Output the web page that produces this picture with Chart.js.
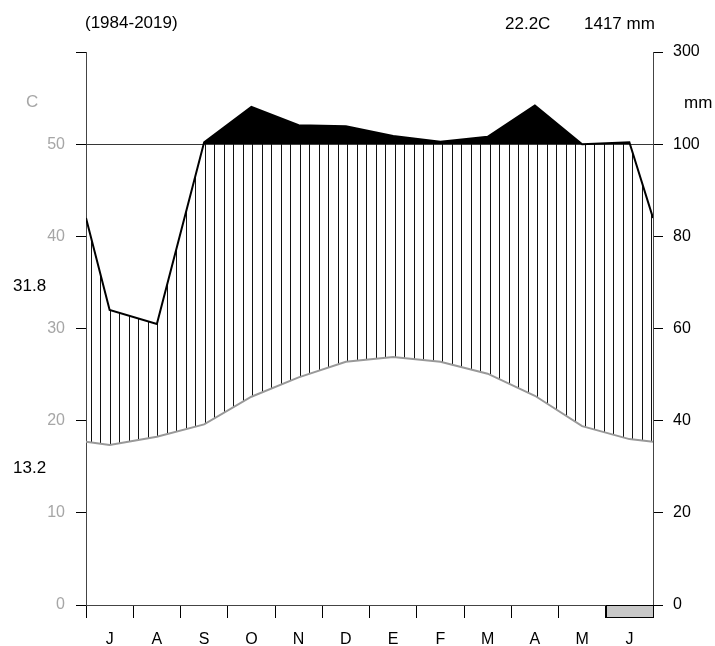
<!DOCTYPE html>
<html>
<head>
<meta charset="utf-8">
<script src="https://cdn.jsdelivr.net/npm/chart.js@4.4.1/dist/chart.umd.min.js"></script>
<style>
  html, body { margin: 0; padding: 0; background: #fff; }
</style>
</head>
<body>
<canvas id="chart" width="715" height="646"></canvas>
<script>
// months from July to June
const months = ['J', 'A', 'S', 'O', 'N', 'D', 'E', 'F', 'M', 'A', 'M', 'J']
// mean monthly temperature, C
const temp = [17.35, 18.25, 19.6, 22.6, 24.7, 26.4, 26.9, 26.4, 25.1, 22.7, 19.4, 18.0]
// monthly precipitation, mm
const prec = [64, 61, 104, 181, 141, 139, 118, 105, 116, 184, 100, 104]
// values read where the curves meet the left and right borders
const edgeTemp = 17.7
const edgePrec = 84
// months with probable frost (grey box under the axis)
const frost = [0, 0, 0, 0, 0, 0, 0, 0, 0, 0, 0, 1]
// axis ticks
const tempTicks = [0, 10, 20, 30, 40, 50, 60]
const tempLabels = ['0', '10', '20', '30', '40', '50', '']
const precLabels = ['0', '20', '40', '60', '80', '100', '300']

const font = { family: 'Liberation Sans, Arial, sans-serif', size: 16 }

// precipitation drawn on the temperature scale: 2 mm per C up to 100 mm, 20 mm per C above
function precToScale(p) {
  return p <= 100 ? p / 2 : 50 + (p - 100) / 20
}

const tempPoints = [{ x: 0, y: edgeTemp }]
temp.forEach((t, i) => tempPoints.push({ x: i + 0.5, y: t }))
tempPoints.push({ x: 12, y: edgeTemp })

const precPoints = [{ x: 0, y: precToScale(edgePrec) }]
prec.forEach((p, i) => precPoints.push({ x: i + 0.5, y: precToScale(p) }))
precPoints.push({ x: 12, y: precToScale(edgePrec) })

// vertical hatching for the humid period
const pc = document.createElement('canvas')
pc.width = 19
pc.height = 4
const pg = pc.getContext('2d')
pg.fillStyle = '#111'
pg.fillRect(5, 0, 1, 4)
pg.fillRect(15, 0, 1, 4)
const hatch = pg.createPattern(pc, 'repeat')

// frost boxes and free texts
const extras = {
  id: 'extras',
  afterDraw(chart) {
    const ctx = chart.ctx
    const xs = chart.scales.x
    const bottom = chart.chartArea.bottom
    ctx.save()
    frost.forEach((f, i) => {
      if (!f) return
      const x0 = Math.round(xs.getPixelForValue(i)) + 0.5
      const x1 = Math.round(xs.getPixelForValue(i + 1)) + 0.5
      ctx.fillStyle = '#c8c8c8'
      ctx.fillRect(x0, bottom + 0.5, x1 - x0, 12)
      ctx.strokeStyle = '#000'
      ctx.lineWidth = 1
      ctx.strokeRect(x0, bottom + 0.5, x1 - x0, 12)
    })
    ctx.font = '17px ' + font.family
    ctx.textBaseline = 'middle'
    ctx.textAlign = 'left'
    ctx.fillStyle = '#000'
    ctx.fillText('(1984-2019)', 85, 23)
    ctx.fillText('22.2C', 505, 24)
    ctx.fillText('1417 mm', 584, 24)
    ctx.fillText('31.8', 13, 286)
    ctx.fillText('13.2', 13, 468)
    ctx.fillText('mm', 684, 103)
    ctx.fillStyle = '#a6a6a6'
    ctx.fillText('C', 26, 102)
    ctx.restore()
  }
}

new Chart(document.getElementById('chart'), {
  type: 'line',
  data: {
    datasets: [
      {
        data: tempPoints,
        borderColor: '#999',
        borderWidth: 2,
        pointRadius: 0,
        fill: false,
        order: 0
      },
      {
        data: precPoints,
        borderColor: '#000',
        borderWidth: 2,
        pointRadius: 0,
        fill: { target: { value: 50 }, above: '#000', below: 'rgba(0,0,0,0)' },
        order: 1
      },
      {
        data: precPoints,
        borderColor: 'rgba(0,0,0,0)',
        borderWidth: 0,
        pointRadius: 0,
        fill: { target: 0, above: hatch, below: 'rgba(0,0,0,0)' },
        order: 2
      }
    ]
  },
  options: {
    responsive: false,
    animation: false,
    layout: { padding: { top: 52, left: 0, right: 0, bottom: 0 } },
    plugins: { legend: { display: false }, tooltip: { enabled: false } },
    elements: { line: { tension: 0 } },
    scales: {
      x: { type: 'linear', min: 0, max: 12, display: false },
      xm: {
        type: 'category',
        labels: months,
        position: 'bottom',
        offset: true,
        afterFit: (s) => { s.height = 41 },
        grid: { offset: true, drawOnChartArea: false, tickLength: 13, tickColor: '#000', color: '#000' },
        border: { display: true, color: '#444' },
        ticks: { color: '#000', font: font, padding: 12, maxRotation: 0, autoSkip: false }
      },
      y: {
        type: 'linear',
        position: 'left',
        min: 0,
        max: 60,
        afterBuildTicks: (s) => { s.ticks = tempTicks.map((v) => ({ value: v })) },
        afterFit: (s) => { s.width = 86 },
        ticks: { color: '#a6a6a6', font: font, padding: 11, callback: (v, i) => tempLabels[i] },
        grid: {
          drawOnChartArea: true,
          color: (c) => (c.tick && c.tick.value === 50 ? '#444' : 'rgba(0,0,0,0)'),
          tickColor: '#000',
          tickLength: 10
        },
        border: { display: true, color: '#444' }
      },
      y2: {
        type: 'linear',
        position: 'right',
        min: 0,
        max: 60,
        afterBuildTicks: (s) => { s.ticks = tempTicks.map((v) => ({ value: v })) },
        afterFit: (s) => { s.width = 62 },
        ticks: { color: '#000', font: font, padding: 10, callback: (v, i) => precLabels[i] },
        grid: { drawOnChartArea: false, tickColor: '#000', tickLength: 10 },
        border: { display: true, color: '#444' }
      }
    }
  },
  plugins: [extras]
})
</script>
</body>
</html>
